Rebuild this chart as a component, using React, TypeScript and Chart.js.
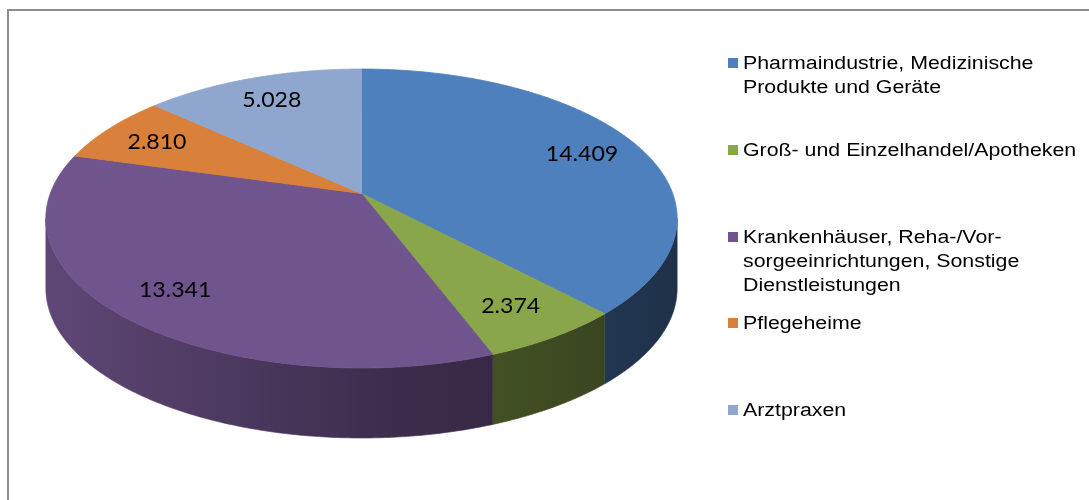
import React, { useEffect, useRef } from "react";
import { Chart, registerables } from "chart.js";

Chart.register(...registerables);

// ---- data ----
const categories = [
  "Pharmaindustrie, Medizinische\nProdukte und Geräte",
  "Groß- und Einzelhandel/Apotheken",
  "Krankenhäuser, Reha-/Vor-\nsorgeeinrichtungen, Sonstige\nDienstleistungen",
  "Pflegeheime",
  "Arztpraxen",
];
const values = [14409, 2374, 13341, 2810, 5028];
const topColors = ["#4e80bd", "#8aa64b", "#70548d", "#d9813a", "#8fa7cf"];

// ---- 3D projection style constants ----
const PERSP = 0.1672; // perspective strength
const KX = 2.0747; // horizontal stretch relative to radius
const KY = 0.9687; // vertical stretch relative to radius
const DEPTH = 0.4667; // extrusion depth relative to radius
const LABEL_R = 0.8;

function fmt(v: number) {
  return String(Math.round(v)).replace(/\B(?=(\d{3})+(?!\d))/g, ".");
}

function shade(hex: string, f: number) {
  const n = parseInt(hex.slice(1), 16);
  const r = Math.round(((n >> 16) & 255) * f);
  const g = Math.round(((n >> 8) & 255) * f);
  const b = Math.round((n & 255) * f);
  return `rgb(${r},${g},${b})`;
}

const pie3d = {
  id: "pie3d",
  beforeDatasetsDraw(chart: any) {
    const ctx: CanvasRenderingContext2D = chart.ctx;
    const meta = chart.getDatasetMeta(0);
    const arcs: any[] = meta.data;
    if (!arcs.length) return false;
    const cx = arcs[0].x;
    const cy = arcs[0].y;
    const R = arcs[0].outerRadius;
    const proj = (t: number, r: number): [number, number] => {
      const c = Math.cos(t) * r;
      const s = Math.sin(t) * r;
      const w = 1 + PERSP * c;
      return [cx + (KX * R * s) / w, cy - (KY * R * c) / w];
    };
    const dep = DEPTH * R;
    const tL = Math.acos(-PERSP);
    const tR = 2 * Math.PI - tL;
    const half = (KX * R) / Math.sqrt(1 - PERSP * PERSP);
    const xLeft = cx - half;
    const xRight = cx + half;
    const bg: string[] = chart.data.datasets[0].backgroundColor;
    const data: number[] = chart.data.datasets[0].data;

    ctx.save();
    // side walls
    arcs.forEach((arc, i) => {
      const a0 = arc.startAngle + Math.PI / 2;
      const a1 = arc.endAngle + Math.PI / 2;
      const lo = Math.max(a0, tL);
      const hi = Math.min(a1, tR);
      if (hi <= lo) return;
      const n = Math.max(2, Math.ceil((hi - lo) / 0.01));
      ctx.beginPath();
      for (let k = 0; k <= n; k++) {
        const [x, y] = proj(lo + ((hi - lo) * k) / n, 1);
        if (k === 0) ctx.moveTo(x, y);
        else ctx.lineTo(x, y);
      }
      for (let k = n; k >= 0; k--) {
        const [x, y] = proj(lo + ((hi - lo) * k) / n, 1);
        ctx.lineTo(x, y + dep);
      }
      ctx.closePath();
      const g = ctx.createLinearGradient(xLeft, 0, xRight, 0);
      g.addColorStop(0, shade(bg[i], 0.84));
      g.addColorStop(0.5, shade(bg[i], 0.56));
      g.addColorStop(1, shade(bg[i], 0.38));
      ctx.fillStyle = g;
      ctx.strokeStyle = g;
      ctx.lineWidth = 0.6;
      ctx.fill();
      ctx.stroke();
    });

    // top faces
    arcs.forEach((arc, i) => {
      const a0 = arc.startAngle + Math.PI / 2;
      const a1 = arc.endAngle + Math.PI / 2;
      const n = Math.max(2, Math.ceil((a1 - a0) / 0.01));
      ctx.beginPath();
      ctx.moveTo(cx, cy);
      for (let k = 0; k <= n; k++) {
        const [x, y] = proj(a0 + ((a1 - a0) * k) / n, 1);
        ctx.lineTo(x, y);
      }
      ctx.closePath();
      ctx.fillStyle = bg[i];
      ctx.strokeStyle = bg[i];
      ctx.lineWidth = 0.8;
      ctx.lineJoin = "round";
      ctx.fill();
      ctx.stroke();
    });

    // value labels
    ctx.font = "21px Lato, 'Open Sans', sans-serif";
    ctx.textAlign = "center";
    ctx.textBaseline = "middle";
    ctx.fillStyle = "#000";
    arcs.forEach((arc, i) => {
      const mid = (arc.startAngle + arc.endAngle) / 2 + Math.PI / 2;
      const [x, y] = proj(mid, LABEL_R);
      ctx.save();
      ctx.translate(x, y + 1.5);
      ctx.scale(1.1, 1);
      ctx.fillText(fmt(data[i]), 0, 0);
      ctx.restore();
    });
    ctx.restore();
    return false;
  },
};

const LEGEND_Y0 = 63;
const LEGEND_STEP = 86.75;

export default function App() {
  const ref = useRef<HTMLCanvasElement>(null);
  useEffect(() => {
    const chart = new Chart(ref.current as HTMLCanvasElement, {
      type: "pie",
      data: {
        labels: categories.map((c) => c.replace(/\n/g, " ")),
        datasets: [{ data: values, backgroundColor: topColors, borderWidth: 0 }],
      },
      options: {
        responsive: false,
        animation: false,
        events: [],
        layout: { padding: { left: 211.5, top: 43.5, right: 577.5, bottom: 156.5 } },
        plugins: { legend: { display: false }, tooltip: { enabled: false } },
      },
      plugins: [pie3d as any],
    } as any);
    return () => chart.destroy();
  }, []);

  return (
    <div
      style={{
        position: "fixed",
        left: 0,
        top: 0,
        width: 1089,
        height: 500,
        overflow: "hidden",
        background: "#fff",
      }}
    >
      <div
        style={{
          position: "absolute",
          left: 7,
          top: 9,
          width: 1200,
          height: 600,
          border: "2px solid #8d8d8d",
          boxSizing: "border-box",
        }}
      />
      <canvas
        ref={ref}
        width={1089}
        height={500}
        style={{ position: "absolute", left: 0, top: 0, width: 1089, height: 500 }}
      />
      {categories.map((c, i) => {
        const yc = LEGEND_Y0 + i * LEGEND_STEP;
        return (
          <React.Fragment key={i}>
            <div
              style={{
                position: "absolute",
                left: 728,
                top: yc - 5,
                width: 10,
                height: 10,
                background: topColors[i],
              }}
            />
            <div
              style={{
                position: "absolute",
                left: 743,
                top: yc - 12,
                font: "18px 'Liberation Sans', Arial, sans-serif",
                lineHeight: "24px",
                color: "#000",
                whiteSpace: "pre",
                transform: "scaleX(1.185)",
                transformOrigin: "0 0",
              }}
            >
              {c}
            </div>
          </React.Fragment>
        );
      })}
    </div>
  );
}
